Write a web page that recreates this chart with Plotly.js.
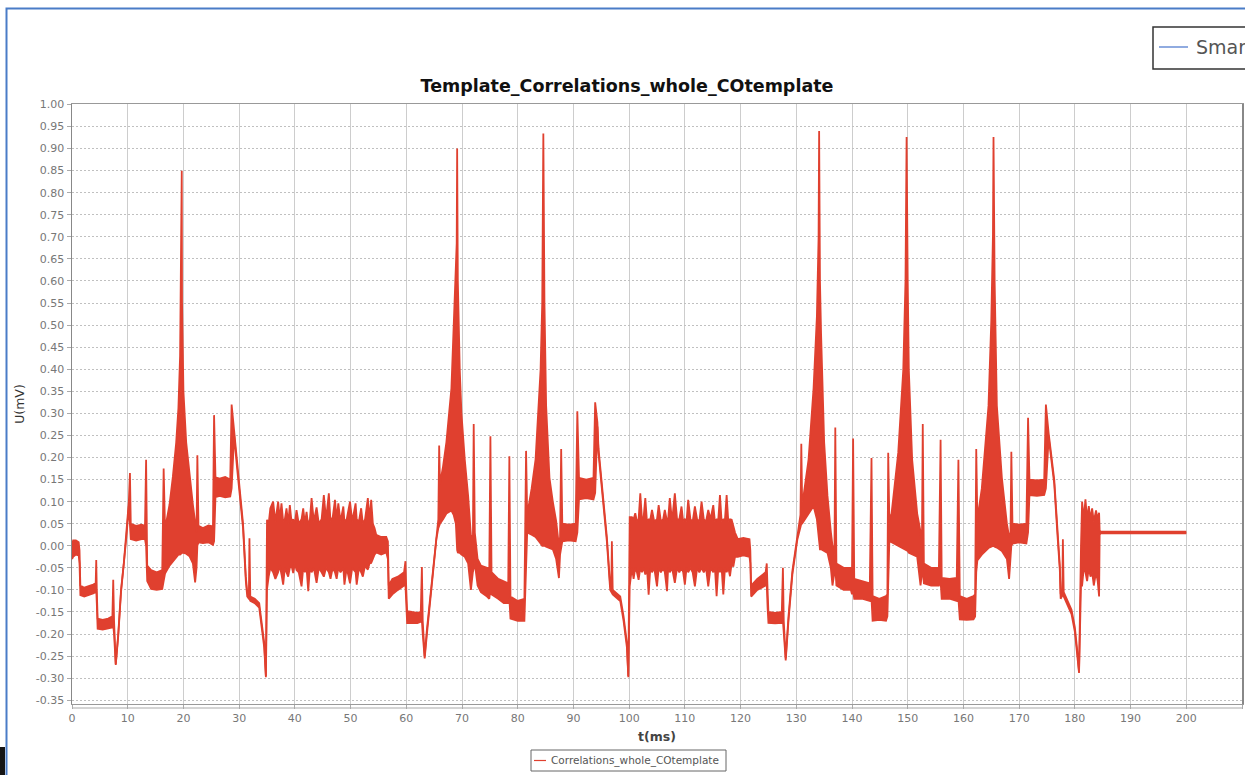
<!DOCTYPE html>
<html>
<head>
<meta charset="utf-8">
<script src="https://cdn.plot.ly/plotly-3.0.1.min.js"></script>
<style>
  html, body { margin: 0; padding: 0; background: #ffffff; }
  #chart { width: 1245px; height: 775px; }
</style>
</head>
<body>
<div id="chart"></div>
<script>
// ---- Data ----
// Each row: [t (ms), upper envelope U (mV), lower envelope U (mV)]
const cycle1 = [
  [0.0, 0.000, -0.030], [0.2, 0.012, -0.025], [0.7, 0.012, -0.020], [1.2, 0.008, -0.022],
  [1.35, -0.010, -0.040], [1.5, -0.090, -0.112], [2.2, -0.095, -0.115], [3.0, -0.092, -0.112],
  [3.8, -0.088, -0.108], [4.25, -0.085, -0.105], [4.35, -0.032, -0.100], [4.45, -0.100, -0.130],
  [4.6, -0.165, -0.188], [5.5, -0.168, -0.190], [6.5, -0.165, -0.188], [7.25, -0.160, -0.185],
  [7.4, -0.077, -0.180], [7.55, -0.170, -0.200], [7.85, -0.268, -0.270], [8.3, -0.200, -0.205],
  [8.8, -0.100, -0.105], [9.3, -0.040, -0.045], [9.8, 0.030, 0.025], [10.2, 0.100, 0.090],
  [10.4, 0.165, 0.050], [10.55, 0.050, 0.015], [11.5, 0.045, 0.012], [12.5, 0.048, 0.015],
  [13.1, 0.045, 0.015], [13.3, 0.195, 0.000], [13.5, -0.045, -0.080], [14.2, -0.055, -0.098],
  [15.2, -0.060, -0.100], [16.2, -0.055, -0.098], [16.45, 0.175, -0.080], [16.7, 0.038, -0.063],
  [17.5, 0.093, -0.045], [18.1, 0.156, -0.035], [18.7, 0.234, -0.024], [19.1, 0.312, -0.020],
  [19.4, 0.430, -0.020], [19.55, 0.586, -0.018], [19.65, 0.710, -0.016], [19.7, 0.850, -0.016],
  [19.75, 0.550, -0.016], [20.0, 0.350, -0.016], [20.5, 0.234, -0.018], [21.1, 0.156, -0.024],
  [21.7, 0.093, -0.040], [22.1, 0.054, -0.083], [22.35, 0.030, -0.050], [22.5, 0.205, 0.000],
  [22.7, 0.045, 0.008], [23.5, 0.040, 0.006], [24.5, 0.046, 0.008], [25.3, 0.044, 0.002],
  [25.5, 0.296, 0.010], [25.75, 0.155, 0.110], [26.5, 0.152, 0.113], [27.5, 0.156, 0.110],
  [28.4, 0.150, 0.112], [28.65, 0.320, 0.130], [29.1, 0.260, 0.250], [29.6, 0.190, 0.180],
  [30.0, 0.140, 0.130], [30.7, 0.050, 0.040], [31.2, -0.070, -0.080], [31.45, -0.105, -0.115],
  [31.75, -0.110, -0.120], [31.85, 0.017, -0.120], [32.0, -0.115, -0.125], [32.8, -0.120, -0.130],
  [33.6, -0.130, -0.140], [34.0, -0.165, -0.175], [34.5, -0.220, -0.230], [34.8, -0.295, -0.298]
];
const noise1 = [
  [35.0, 0.059, -0.099], [35.3, 0.050, -0.070], [35.6, 0.085, -0.050], [36.1, 0.100, -0.060],
  [36.5, 0.055, -0.075], [37.0, 0.100, -0.060], [37.3, 0.060, -0.045], [37.6, 0.096, -0.065],
  [37.9, 0.055, -0.088], [38.2, 0.060, -0.050], [38.5, 0.085, -0.060], [38.8, 0.050, -0.070],
  [39.1, 0.092, -0.050], [39.4, 0.055, -0.045], [39.7, 0.060, -0.062], [40.0, 0.050, -0.040],
  [40.3, 0.081, -0.055], [40.7, 0.050, -0.060], [41.2, 0.060, -0.092], [41.5, 0.085, -0.050],
  [41.8, 0.050, -0.060], [42.1, 0.077, -0.050], [42.4, 0.045, -0.103], [42.7, 0.060, -0.050],
  [43.0, 0.108, -0.060], [43.4, 0.055, -0.050], [43.9, 0.087, -0.084], [44.3, 0.050, -0.050],
  [44.8, 0.060, -0.060], [45.2, 0.115, -0.070], [45.6, 0.060, -0.050], [46.1, 0.119, -0.060],
  [46.4, 0.055, -0.075], [46.8, 0.065, -0.050], [47.2, 0.104, -0.060], [47.5, 0.060, -0.075],
  [47.8, 0.096, -0.050], [48.2, 0.055, -0.060], [48.7, 0.089, -0.050], [48.9, 0.055, -0.088],
  [49.3, 0.060, -0.050], [49.9, 0.100, -0.085], [50.3, 0.055, -0.050], [50.9, 0.096, -0.060],
  [51.1, 0.060, -0.088], [51.5, 0.055, -0.050], [51.9, 0.085, -0.060], [52.2, 0.050, -0.070],
  [52.6, 0.060, -0.045], [53.1, 0.108, -0.054], [53.4, 0.060, -0.040], [53.7, 0.104, -0.039],
  [54.0, 0.050, -0.030], [54.3, 0.040, -0.020]
];
const cycle2 = [
  [54.6, 0.025, -0.015], [55.5, 0.020, -0.020], [56.4, 0.020, -0.015], [56.7, 0.010, -0.030],
  [56.85, -0.090, -0.120], [57.5, -0.075, -0.110], [58.5, -0.070, -0.100], [59.6, -0.060, -0.090],
  [59.85, -0.035, -0.090], [60.0, -0.100, -0.140], [60.15, -0.148, -0.175], [61.0, -0.150, -0.175],
  [62.0, -0.152, -0.175], [62.6, -0.150, -0.172], [62.8, -0.048, -0.170], [62.95, -0.170, -0.200],
  [63.3, -0.250, -0.255], [63.7, -0.190, -0.200], [64.5, -0.090, -0.100], [65.4, 0.024, 0.015],
  [65.75, 0.060, 0.040], [65.9, 0.227, 0.045], [66.05, 0.140, 0.050], [66.6, 0.180, 0.060],
  [67.2, 0.235, 0.073], [68.1, 0.357, 0.080], [68.5, 0.480, 0.070], [68.9, 0.600, 0.050],
  [69.05, 0.686, 0.000], [69.13, 0.900, -0.010], [69.25, 0.600, -0.015], [69.6, 0.398, -0.016],
  [69.9, 0.300, -0.020], [70.5, 0.195, -0.025], [71.1, 0.113, -0.040], [71.6, 0.024, -0.100],
  [71.95, 0.000, -0.060], [72.1, 0.276, -0.050], [72.3, 0.030, -0.040], [72.8, -0.030, -0.090],
  [73.4, -0.045, -0.105], [74.5, -0.050, -0.115], [74.9, -0.050, -0.120], [75.1, 0.248, -0.100],
  [75.3, -0.060, -0.110], [76.5, -0.075, -0.120], [77.5, -0.080, -0.130], [78.3, -0.085, -0.130],
  [78.5, 0.203, -0.120], [78.7, -0.115, -0.165], [80.0, -0.125, -0.170], [81.2, -0.120, -0.170],
  [81.5, 0.215, -0.050], [81.7, 0.070, 0.030], [82.5, 0.130, 0.025], [83.2, 0.195, 0.020],
  [84.1, 0.398, 0.005], [84.4, 0.550, 0.000], [84.6, 0.934, 0.000], [84.8, 0.550, 0.000],
  [85.1, 0.317, -0.002], [85.7, 0.154, -0.005], [86.3, 0.100, -0.008], [86.9, 0.056, -0.030],
  [87.4, 0.000, -0.073], [87.6, 0.020, -0.020], [87.8, 0.219, 0.000], [88.0, 0.050, 0.010],
  [89.2, 0.048, 0.012], [90.4, 0.050, 0.010], [90.7, 0.305, 0.030], [91.0, 0.154, 0.105],
  [92.3, 0.150, 0.108], [93.6, 0.154, 0.105], [93.9, 0.325, 0.120], [94.3, 0.280, 0.270],
  [94.5, 0.220, 0.210], [95.1, 0.135, 0.125], [96.0, 0.020, 0.010], [96.6, -0.090, -0.100],
  [96.8, -0.095, -0.105], [96.9, 0.010, -0.105], [97.05, -0.100, -0.110], [98.4, -0.115, -0.125],
  [99.0, -0.160, -0.170], [99.6, -0.220, -0.230], [99.85, -0.295, -0.298]
];
const noise2 = [
  [100.1, 0.065, -0.092], [100.5, 0.065, -0.050], [100.8, 0.060, -0.075], [101.1, 0.074, -0.050],
  [101.4, 0.055, -0.060], [101.7, 0.060, -0.077], [102.0, 0.119, -0.050], [102.3, 0.060, -0.060],
  [102.6, 0.065, -0.050], [102.9, 0.108, -0.065], [103.2, 0.055, -0.050], [103.5, 0.060, -0.111],
  [103.8, 0.060, -0.050], [104.1, 0.081, -0.060], [104.5, 0.055, -0.050], [105.0, 0.060, -0.092],
  [105.3, 0.092, -0.050], [105.7, 0.055, -0.060], [106.1, 0.060, -0.050], [106.4, 0.081, -0.060],
  [106.8, 0.055, -0.103], [107.0, 0.060, -0.050], [107.3, 0.108, -0.060], [107.7, 0.055, -0.050],
  [108.2, 0.119, -0.084], [108.6, 0.060, -0.050], [109.0, 0.060, -0.060], [109.4, 0.089, -0.050],
  [109.7, 0.055, -0.060], [110.0, 0.060, -0.088], [110.3, 0.055, -0.050], [110.6, 0.104, -0.060],
  [111.0, 0.060, -0.050], [111.4, 0.055, -0.060], [111.8, 0.089, -0.092], [112.2, 0.060, -0.050],
  [112.6, 0.055, -0.060], [113.0, 0.100, -0.050], [113.4, 0.060, -0.060], [113.8, 0.055, -0.050],
  [114.2, 0.081, -0.092], [114.6, 0.060, -0.050], [115.1, 0.092, -0.060], [115.4, 0.055, -0.050],
  [115.7, 0.060, -0.114], [116.0, 0.060, -0.050], [116.3, 0.115, -0.060], [116.6, 0.055, -0.050],
  [116.9, 0.060, -0.110], [117.2, 0.060, -0.050], [117.5, 0.115, -0.060], [117.8, 0.055, -0.050],
  [118.1, 0.060, -0.069], [118.4, 0.059, -0.040], [118.7, 0.045, -0.047], [119.0, 0.030, -0.025]
];
const cycle3 = [
  [119.5, 0.015, -0.025], [120.5, 0.018, -0.022], [121.6, 0.015, -0.025], [121.75, -0.010, -0.040],
  [121.9, -0.090, -0.115], [123.0, -0.075, -0.100], [124.5, -0.060, -0.090], [124.7, -0.040, -0.090],
  [124.85, -0.100, -0.140], [125.0, -0.150, -0.175], [126.2, -0.152, -0.176], [127.4, -0.150, -0.175],
  [127.6, -0.050, -0.170], [127.75, -0.170, -0.200], [128.1, -0.255, -0.260], [128.6, -0.160, -0.170],
  [129.3, -0.057, -0.065], [130.2, 0.024, 0.015], [130.75, 0.070, 0.045], [130.9, 0.231, 0.050],
  [131.05, 0.100, 0.050], [131.3, 0.113, 0.055], [132.2, 0.195, 0.073], [133.1, 0.357, 0.090],
  [133.7, 0.520, 0.060], [134.0, 0.698, 0.020], [134.1, 0.940, -0.005], [134.25, 0.600, -0.008],
  [134.45, 0.480, -0.008], [135.0, 0.235, -0.012], [135.6, 0.113, -0.016], [136.2, 0.032, -0.050],
  [136.5, 0.000, -0.090], [136.85, -0.020, -0.060], [137.0, 0.268, -0.050], [137.2, -0.040, -0.090],
  [138.5, -0.050, -0.100], [139.8, -0.050, -0.100], [140.0, -0.060, -0.110], [140.2, 0.243, -0.100],
  [140.4, -0.075, -0.120], [141.8, -0.080, -0.120], [143.2, -0.085, -0.125], [143.5, 0.199, -0.120],
  [143.7, -0.114, -0.170], [144.9, -0.120, -0.168], [146.1, -0.114, -0.170], [146.35, -0.110, -0.160],
  [146.5, 0.211, -0.050], [146.7, 0.060, 0.010], [147.1, 0.073, 0.008], [148.3, 0.211, 0.000],
  [149.2, 0.398, -0.005], [149.6, 0.600, -0.008], [149.8, 0.926, -0.010], [150.0, 0.600, -0.012],
  [150.2, 0.398, -0.016], [150.8, 0.195, -0.020], [151.7, 0.073, -0.025], [152.3, 0.032, -0.090],
  [152.55, 0.000, -0.060], [152.7, 0.276, -0.050], [152.9, -0.040, -0.085], [154.2, -0.050, -0.090],
  [155.6, -0.050, -0.090], [155.9, 0.240, -0.080], [156.1, -0.073, -0.120], [157.5, -0.075, -0.120],
  [158.8, -0.073, -0.125], [159.1, 0.195, -0.120], [159.35, -0.114, -0.167], [160.6, -0.120, -0.168],
  [161.8, -0.114, -0.167], [162.1, -0.110, -0.160], [162.3, 0.219, -0.060], [162.5, 0.060, -0.033],
  [163.3, 0.130, -0.020], [164.5, 0.317, -0.005], [165.0, 0.510, -0.002], [165.3, 0.706, 0.000],
  [165.4, 0.926, 0.000], [165.6, 0.600, -0.002], [166.0, 0.317, -0.004], [166.9, 0.154, -0.012],
  [167.8, 0.050, -0.030], [168.2, 0.020, -0.075], [168.45, 0.030, -0.010], [168.6, 0.213, 0.000],
  [168.8, 0.050, 0.005], [170.0, 0.048, 0.008], [171.3, 0.050, 0.005], [171.6, 0.290, 0.030],
  [171.85, 0.150, 0.115], [173.2, 0.148, 0.113], [174.5, 0.150, 0.115], [174.8, 0.320, 0.130],
  [175.3, 0.255, 0.245], [176.3, 0.150, 0.140], [176.9, 0.030, 0.020], [177.3, -0.045, -0.055],
  [177.45, -0.110, -0.120], [177.75, -0.100, -0.110], [177.85, 0.015, -0.110], [178.0, -0.105, -0.115],
  [179.4, -0.145, -0.155], [180.0, -0.185, -0.195], [180.45, -0.240, -0.250], [180.75, -0.285, -0.288]
];
const noise3 = [
  [181.1, 0.000, -0.090], [181.3, 0.100, -0.090], [181.6, 0.060, -0.050], [181.9, 0.105, -0.060],
  [182.2, 0.060, -0.080], [182.5, 0.090, -0.050], [182.8, 0.060, -0.070], [183.1, 0.085, -0.060],
  [183.4, 0.055, -0.090], [183.8, 0.080, -0.060], [184.1, 0.060, -0.080], [184.35, 0.075, -0.115],
  [184.45, 0.035, 0.025]
];
const tail = [
  [184.6, 0.032, 0.028], [200.0, 0.032, 0.028]
];

const xTickLabels = ['0','10','20','30','40','50','60','70','80','90','100','110','120','130','140','150','160','170','180','190','200','210'];
const yTickLabels = ['-0.35','-0.30','-0.25','-0.20','-0.15','-0.10','-0.05','0.00','0.05','0.10','0.15','0.20','0.25','0.30','0.35','0.40','0.45','0.50','0.55','0.60','0.65','0.70','0.75','0.80','0.85','0.90','0.95','1.00'];

const seriesName = 'Correlations_whole_COtemplate';
const otherSeriesName = 'Smar';
const chartTitle = 'Template_Correlations_whole_COtemplate';

// ---- Build traces ----
const rows = [].concat(cycle1, noise1, cycle2, noise2, cycle3, noise3, tail);
const tMs = rows.map(r => r[0]);
const upper = rows.map(r => r[1]);
const lower = rows.map(r => r[2]);

const RED = '#e0402f';
const traces = [
  { x: tMs, y: upper, type: 'scatter', mode: 'lines', name: seriesName,
    line: { color: RED, width: 1.8 }, hoverinfo: 'skip', showlegend: false },
  { x: tMs, y: lower, type: 'scatter', mode: 'lines', name: seriesName,
    line: { color: RED, width: 1.8 }, fill: 'tonexty', fillcolor: RED,
    hoverinfo: 'skip', showlegend: false }
];

// plot area: px x 72..1242, y 104..704
const L = 72, T = 104, W = 1170, H = 600;
const px = v => (v - L) / W;          // page px -> paper x
const py = v => (T + H - v) / H;      // page px -> paper y

const layout = {
  width: 1245, height: 775,
  margin: { l: L, r: 1245 - L - W, t: T, b: 775 - T - H, pad: 0 },
  paper_bgcolor: '#ffffff', plot_bgcolor: '#ffffff',
  font: { family: 'DejaVu Sans, sans-serif', size: 11, color: '#666' },
  showlegend: false,
  title: { text: chartTitle, xref: 'container', yref: 'container',
    x: 627 / 1245, xanchor: 'center', y: 1 - 86 / 775, yanchor: 'middle',
    font: { family: 'DejaVu Sans, sans-serif', size: 17.5, color: '#111', weight: 'bold' } },
  xaxis: {
    range: [0, 210], tickmode: 'array',
    tickvals: xTickLabels.map(Number), ticktext: xTickLabels,
    showgrid: true, gridcolor: '#cdcdcd', gridwidth: 1, zeroline: false,
    showline: true, linecolor: '#999', linewidth: 1, mirror: true,
    ticks: 'outside', ticklen: 4, tickcolor: '#aaa',
    tickfont: { size: 11, color: '#777' },
    title: { text: 't(ms)', standoff: 8, font: { size: 12.5, color: '#444', weight: 'bold' } }
  },
  yaxis: {
    range: [-0.3585, 1.001], tickmode: 'array',
    tickvals: yTickLabels.map(Number), ticktext: yTickLabels,
    showgrid: true, gridcolor: '#c0c0c0', gridwidth: 1, griddash: '2px,2px', zeroline: false,
    showline: true, linecolor: '#888', linewidth: 1.5, mirror: true,
    ticks: 'outside', ticklen: 4, tickcolor: '#aaa',
    tickfont: { size: 11, color: '#777' },
    title: { text: 'U(mV)', standoff: 8, font: { size: 12.5, color: '#333' } }
  },
  shapes: [
    // second (offset) axis line below the plot
    { type: 'line', xref: 'paper', yref: 'paper', x0: 0, x1: 1, y0: py(708), y1: py(708),
      line: { color: '#aaa', width: 1 } },
    // blue window frame
    { type: 'rect', xref: 'paper', yref: 'paper', x0: px(6.5), x1: px(1260), y0: py(800), y1: py(8.5),
      line: { color: '#4a7cc7', width: 2 }, fillcolor: 'rgba(0,0,0,0)' },
    // dark corner block
    { type: 'rect', xref: 'paper', yref: 'paper', x0: px(-5), x1: px(5), y0: py(800), y1: py(747),
      line: { width: 0 }, fillcolor: '#151515' },
    // bottom legend
    { type: 'rect', xref: 'paper', yref: 'paper', x0: px(531), x1: px(726), y0: py(771), y1: py(750),
      line: { color: '#666', width: 1 }, fillcolor: '#ffffff' },
    { type: 'line', xref: 'paper', yref: 'paper', x0: px(534), x1: px(546), y0: py(760.5), y1: py(760.5),
      line: { color: RED, width: 1.2 } },
    // top-right legend (cut off by the window edge)
    { type: 'rect', xref: 'paper', yref: 'paper', x0: px(1153), x1: px(1300), y0: py(69), y1: py(27),
      line: { color: '#333', width: 1.5 }, fillcolor: '#ffffff' },
    { type: 'line', xref: 'paper', yref: 'paper', x0: px(1159), x1: px(1188), y0: py(47), y1: py(47),
      line: { color: '#6b8fd6', width: 1.5 } }
  ],
  annotations: [
    { text: seriesName, xref: 'paper', yref: 'paper', x: px(549), y: py(760.5),
      xanchor: 'left', yanchor: 'middle', showarrow: false,
      font: { size: 10.5, color: '#555' } },
    { text: otherSeriesName, xref: 'paper', yref: 'paper', x: px(1194), y: py(47),
      xanchor: 'left', yanchor: 'middle', showarrow: false,
      font: { size: 19, color: '#555' } }
  ]
};

Plotly.newPlot('chart', traces, layout, { staticPlot: true, displayModeBar: false });
</script>
</body>
</html>
